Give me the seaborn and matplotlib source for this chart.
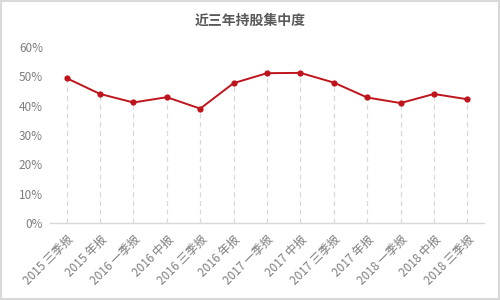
import matplotlib
matplotlib.use("Agg")
import matplotlib.pyplot as plt
import seaborn as sns
import pandas as pd
from matplotlib.ticker import PercentFormatter

categories = ["2015 三季报", "2015 年报", "2016 一季报", "2016 中报", "2016 三季报", "2016 年报",
              "2017 一季报", "2017 中报", "2017 三季报", "2017 年报", "2018 一季报", "2018 中报", "2018 三季报"]
values = [49.4, 44.0, 41.1, 42.9, 39.0, 47.7, 51.1, 51.2, 47.9, 42.8, 40.9, 44.0, 42.2]
yticks = [0, 10, 20, 30, 40, 50, 60]
title = "近三年持股集中度"

sns.set_theme(style="white")
plt.rcParams['font.family'] = ['Noto Sans CJK SC', 'DejaVu Sans']

df = pd.DataFrame({"cat": categories, "val": [v / 100 for v in values]})
df["x"] = range(len(df))

fig = plt.figure(figsize=(5, 3), dpi=100)
fig.patch.set_facecolor("white")
ax = fig.add_axes([0.1, 0.257, 0.868, 0.586])

ax.vlines(df["x"], 0, df["val"], colors="#d9d9d9", linestyles=(0, (4, 3)), linewidth=0.9, zorder=1)
sns.lineplot(data=df, x="x", y="val", ax=ax, color="#c0141c", linewidth=1.4, marker="o",
             markersize=4.5, markeredgewidth=0, zorder=3)

ax.set_xlim(-0.5, len(df) - 0.5)
ax.set_ylim(0, 0.6)
ax.set_yticks([t / 100 for t in yticks])
ax.yaxis.set_major_formatter(PercentFormatter(1.0, decimals=0))
ax.set_xticks(df["x"])
ax.set_xticklabels(df["cat"], rotation=45, ha="right", rotation_mode="anchor")
ax.tick_params(axis="both", colors="#7f7f7f", labelsize=8.5, length=0)
ax.tick_params(axis="x", pad=7)
ax.tick_params(axis="y", pad=5)
ax.set_xlabel("")
ax.set_ylabel("")
for s in ["top", "right", "left"]:
    ax.spines[s].set_visible(False)
ax.spines["bottom"].set_color("#d9d9d9")
ax.spines["bottom"].set_linewidth(1)

fig.text(0.5, 0.93, title, ha="center", va="center", fontsize=10, fontweight="bold", color="#595959")

border = plt.Rectangle((0.002, 0.003), 0.996, 0.994, transform=fig.transFigure, fill=False,
                       edgecolor="#d9d9d9", linewidth=1.5)
fig.patches.append(border)

fig.savefig("out.png", dpi=100, facecolor="white")
